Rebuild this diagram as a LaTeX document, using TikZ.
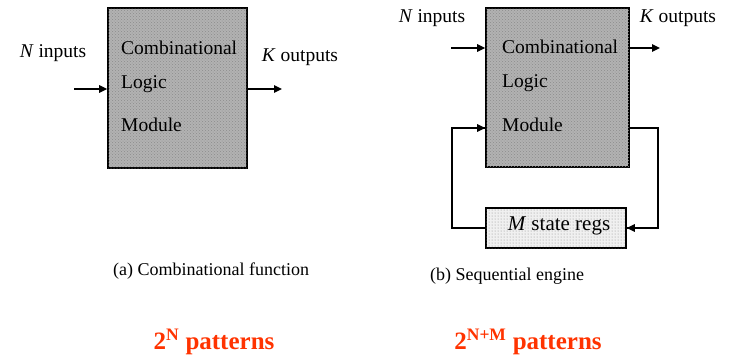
\documentclass[tikz,border=0pt]{standalone}
\usepackage{fontspec}
\setmainfont{Liberation Serif}
\usetikzlibrary{patterns,arrows.meta}
\definecolor{redtxt}{HTML}{FF3300}
\begin{document}
\begin{tikzpicture}[x=1pt,y=-1pt,
  lbl/.style={inner sep=0pt,font=\fontsize{19.5}{21}\selectfont},
  captxt/.style={inner sep=0pt,font=\fontsize{18}{20}\selectfont},
  big/.style={inner sep=0pt,text=redtxt,font=\fontsize{25}{27}\selectfont\bfseries},
  modbox/.style={draw=black,line width=1.6pt,fill=black!30,
    postaction={pattern=crosshatch dots,pattern color=black!45},inner sep=0pt},
  regbox/.style={draw=black,line width=1.6pt,fill=black!6,
    postaction={pattern=dots,pattern color=black!45},inner sep=0pt},
  conn/.style={line width=1.3pt,-{Triangle[length=8pt,width=7.5pt]}},
  wire/.style={line width=1.3pt}]
\useasboundingbox (0,0) rectangle (729,360);
% left
\node[modbox,minimum width=139pt,minimum height=160pt] (A) at (177.5,88) {};
\node[lbl,anchor=west] (a1) at (121,48) {Combinational};
\node[lbl,anchor=west] (a2) at (121,84) {Logic};
\node[lbl,anchor=west] (a3) at (121,125) {Module};
\coordinate (ain) at (74,89);
\coordinate (aout) at (282,89);
\draw[conn] (ain) -- (A.west|-ain);
\draw[conn] (A.east|-aout) -- (aout);
\node[lbl] (ni) at (53,53) {\textit{N} inputs};
\node[lbl] (ko) at (300,57) {\textit{K} outputs};
\node[captxt] (capa) at (211,271) {(a) Combinational function};
\node[big] (pa) at (214,342) {2\textsuperscript{N} patterns};
% right
\node[modbox,minimum width=143pt,minimum height=159pt] (B) at (557.5,87.5) {};
\node[lbl,anchor=west] (b1) at (502,47) {Combinational};
\node[lbl,anchor=west] (b2) at (502,83) {Logic};
\node[lbl,anchor=west] (b3) at (502,125) {Module};
\node[regbox,minimum width=140pt,minimum height=40pt] (R) at (556,228) {};
\node[lbl,font=\fontsize{21}{23}\selectfont] (rt) at (559,226) {\textit{M} state regs};
\coordinate (bin) at (451,48);
\coordinate (bout) at (660,48);
\draw[conn] (bin) -- (B.west|-bin);
\draw[conn] (B.east|-bout) -- (bout);
\coordinate (fr) at (658,128);
\coordinate (fl) at (452,228);
\draw[wire] (B.east|-fr) -- (fr) |- (R.east) ;
\draw[conn] (fr|-R.east) -- (R.east);
\draw[wire] (R.west) -- (fl) |- (B.west|-fr);
\draw[conn] (fl|-fr) -- (B.west|-fr);
\node[lbl] (ni2) at (432,18) {\textit{N} inputs};
\node[lbl] (ko2) at (678,18) {\textit{K} outputs};
\node[captxt] (capb) at (507,276) {(b) Sequential engine};
\node[big] (pb) at (528,342) {2\textsuperscript{N+M} patterns};
\end{tikzpicture}
\end{document}
